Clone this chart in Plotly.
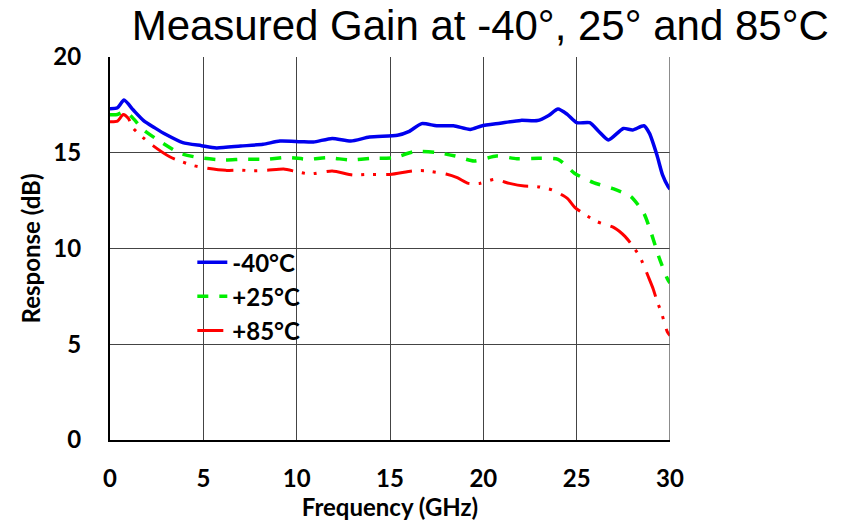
import plotly.graph_objects as go

# Frequency points (GHz) and gain (dB) for each temperature
freq_m40 = [0, 0.4, 0.75, 1.25, 1.8, 2.4, 3.0, 3.9, 4.9, 5.7, 7.0, 8.2, 9.1, 10.2, 10.9,
            11.9, 12.9, 13.9, 15.4, 16.0, 16.7, 17.5, 18.4, 19.3, 19.9, 20.9, 22.0, 22.9,
            23.5, 24.0, 24.5, 25.0, 25.7, 26.2, 26.7, 27.5, 28.0, 28.6, 28.9, 29.3, 29.6,
            29.9, 30.0]
gain_m40 = [17.3, 17.35, 17.75, 17.23, 16.68, 16.3, 15.95, 15.53, 15.37, 15.25, 15.35,
            15.44, 15.61, 15.58, 15.56, 15.75, 15.61, 15.82, 15.91, 16.1, 16.52, 16.41,
            16.41, 16.22, 16.4, 16.54, 16.69, 16.68, 16.95, 17.28, 17.0, 16.57, 16.57,
            16.1, 15.67, 16.27, 16.19, 16.41, 16.01, 14.88, 13.84, 13.23, 13.1]

freq_p25 = [0, 0.4, 0.8, 1.16, 1.8, 2.7, 3.75, 4.8, 6.1, 7.1, 8.4, 9.5, 10.6, 11.7, 12.9,
            14.0, 15.2, 16.3, 17.5, 18.5, 19.5, 20.7, 21.8, 23.0, 24.0, 24.9, 25.9, 26.9,
            27.9, 28.6, 29.0, 29.4, 29.85, 30.0]
gain_p25 = [16.99, 17.0, 17.15, 16.88, 16.19, 15.58, 14.97, 14.74, 14.62, 14.66, 14.66,
            14.76, 14.66, 14.74, 14.62, 14.71, 14.74, 15.06, 15.01, 14.83, 14.57, 14.83,
            14.69, 14.71, 14.66, 13.92, 13.44, 13.14, 12.72, 11.84, 10.79, 9.57, 8.44, 8.2]

freq_p85 = [0, 0.4, 0.71, 0.98, 1.25, 1.75, 2.3, 3.2, 3.85, 4.5, 5.2, 6.2, 6.9, 7.6, 8.4,
            9.3, 10.0, 10.7, 11.9, 13.0, 13.75, 15.0, 16.25, 16.9, 18.0, 18.6, 19.2, 19.8,
            20.6, 21.4, 22.2, 22.9, 23.7, 24.5, 24.9, 25.45, 26.1, 27.0, 27.6, 28.0, 28.4,
            28.85, 29.1, 29.3, 29.55, 29.85, 30.0]
gain_p85 = [16.62, 16.65, 17.0, 16.8, 16.28, 15.81, 15.37, 14.79, 14.53, 14.32, 14.19,
            14.08, 14.1, 14.06, 14.08, 14.15, 14.01, 13.89, 14.05, 13.84, 13.87, 13.87,
            14.06, 14.06, 13.89, 13.7, 13.4, 13.4, 13.61, 13.4, 13.26, 13.23, 13.05, 12.62,
            12.15, 11.77, 11.4, 11.09, 10.62, 10.13, 9.54, 8.5, 7.89, 7.27, 6.62, 5.66, 5.45]

series_names = ["-40°C", "+25°C", "+85°C"]
x_ticks = [0, 5, 10, 15, 20, 25, 30]
y_ticks = [0, 5, 10, 15, 20]

fig = go.Figure()
fig.add_trace(go.Scatter(x=freq_m40, y=gain_m40, mode="lines", name=series_names[0],
                         line=dict(color="#0000ee", width=3.5, shape="spline", smoothing=0.6)))
fig.add_trace(go.Scatter(x=freq_p25, y=gain_p25, mode="lines", name=series_names[1],
                         line=dict(color="#00ee00", width=3.5, dash="11px,11px",
                                   shape="spline", smoothing=0.6)))
fig.add_trace(go.Scatter(x=freq_p85, y=gain_p85, mode="lines", name=series_names[2],
                         line=dict(color="#ff0000", width=3, dash="26px,9px,3px,9px,3px,10px",
                                   shape="spline", smoothing=0.6)))

axis_font = dict(family="Lato", size=24, color="black", weight="bold")

fig.update_layout(
    width=856, height=525,
    margin=dict(l=110, r=186, t=57, b=85),
    paper_bgcolor="white", plot_bgcolor="white",
    title=dict(text="Measured Gain at -40°, 25° and 85°C",
               font=dict(family="Liberation Sans", size=42, color="black"),
               x=0.561, xanchor="center", y=0.952, yanchor="middle", xref="container"),
    showlegend=True,
    legend=dict(x=0.147, y=0.522, xanchor="left", yanchor="top",
                bgcolor="rgba(0,0,0,0)", borderwidth=0,
                font=dict(family="Lato", size=24, color="black", weight="bold"),
                itemwidth=30, tracegroupgap=0),
    xaxis=dict(range=[0, 30], tickvals=x_ticks, ticktext=[str(v) for v in x_ticks],
               showgrid=True, gridcolor="#444444", gridwidth=1,
               showline=True, linecolor="black", linewidth=2, mirror=False,
               ticks="", tickfont=axis_font, ticklabelstandoff=16,
               zeroline=False, automargin=False,
               title=dict(text="Frequency (GHz)", standoff=8,
                          font=dict(family="Lato", size=24, color="black", weight="bold"))),
    yaxis=dict(range=[0, 20], tickvals=y_ticks, ticktext=[str(v) for v in y_ticks],
               showgrid=True, gridcolor="#444444", gridwidth=1,
               showline=True, linecolor="black", linewidth=2,
               ticks="", tickfont=axis_font, ticklabelstandoff=22,
               zeroline=False, automargin=False,
               title=dict(text="Response (dB)", standoff=6,
                          font=dict(family="Lato", size=24, color="black", weight="bold"))),
)

# right border of the plot area
fig.add_shape(type="line", xref="x", yref="paper", x0=30, x1=30, y0=0, y1=1,
              line=dict(color="#666666", width=1.5))

fig.write_html("out.html")
